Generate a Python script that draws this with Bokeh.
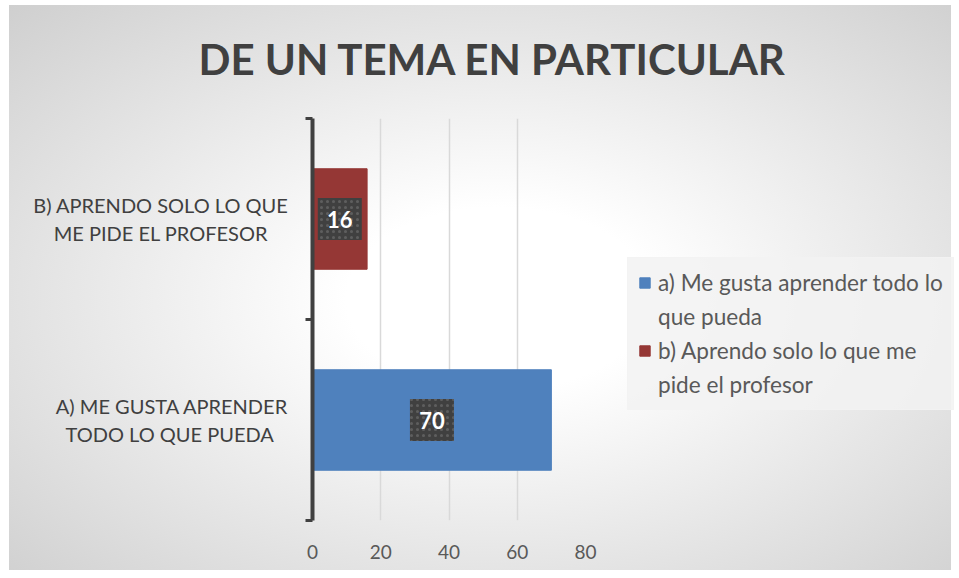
from bokeh.plotting import figure
from bokeh.models import (ColumnDataSource, FixedTicker, Legend, LegendItem, Title, Range1d)
from bokeh.embed import file_html
from bokeh.resources import INLINE
from bokeh.core.properties import value

NB = "\u00a0"

# ---- data ----
title_text = "DE UN TEMA EN PARTICULAR"
categories = ["A) ME GUSTA APRENDER\nTODO LO QUE PUEDA" + NB * 3,
              "B) APRENDO SOLO LO QUE\nME PIDE EL PROFESOR" + NB * 4]
series_names = [["a) Me gusta aprender todo lo", "que pueda"],
                ["b) Aprendo solo lo que me", "pide el profesor"]]
values = [70, 16]
colors = ["#4F81BD", "#953735"]
x_ticks = [0, 20, 40, 60, 80]

FONT = "Lato"

ypos = [i + 0.5 for i in range(len(categories))]
src = ColumnDataSource(dict(y=ypos, right=values, mid=[v / 2 for v in values],
                            color=colors, lab=[str(v) for v in values]))

p = figure(frame_width=273, frame_height=402, output_backend="svg", toolbar_location=None,
           x_range=Range1d(0, 80), y_range=Range1d(0, len(categories)),
           min_border_left=312, min_border_right=30, min_border_top=118,
           min_border_bottom=50)
p.background_fill_color = None
p.border_fill_color = None
p.outline_line_color = None
p.styles = {"background": "radial-gradient(ellipse farthest-corner at 52% 52%, #ffffff 0%, #ffffff 22%, #cfcfcf 100%) 9px 5px / 942px 565px no-repeat, #ffffff"}

bars = p.hbar(y="y", right="right", left=0, height=0.5, color="color", source=src)

# data labels
p.rect(x="mid", y="y", width=44, height=42, width_units="screen", height_units="screen",
       fill_color="#404040", line_color=None, hatch_pattern="dot", hatch_color="#5e5e5e",
       hatch_scale=6, hatch_weight=0.7, source=src)
p.text(x="mid", y="y", text="lab", text_color="white", text_font=value(FONT),
       text_font_style="bold", text_font_size="22px", text_align="center",
       text_baseline="middle", source=src)

# x axis
xa = p.xaxis[0]
xa.ticker = FixedTicker(ticks=x_ticks)
xa.axis_line_color = None
xa.major_tick_line_color = None
xa.minor_tick_line_color = None
xa.major_label_text_font = FONT
xa.major_label_text_font_size = "19px"
xa.major_label_text_color = "#595959"
xa.major_label_standoff = 18

# y axis
ya = p.yaxis[0]
ya.ticker = FixedTicker(ticks=ypos, minor_ticks=list(range(len(categories) + 1)))
ya.major_label_overrides = {ypos[i]: categories[i] for i in range(len(categories))}
ya.axis_line_color = "#404040"
ya.axis_line_width = 4
ya.major_tick_line_color = None
ya.minor_tick_line_color = "#404040"
ya.minor_tick_line_width = 3
ya.minor_tick_out = 7
ya.minor_tick_in = 0
ya.major_label_text_font = FONT
ya.major_label_text_font_size = "20px"
ya.major_label_text_color = "#404040"
ya.major_label_text_line_height = 1.2
ya.major_label_standoff = 17

p.xgrid.ticker = FixedTicker(ticks=x_ticks)
p.xgrid.grid_line_color = "#d9d9d9"
p.xgrid.grid_line_width = 1.5
p.ygrid.grid_line_color = None

# title
p.add_layout(Title(text=title_text, align="left", offset=-114, standoff=66,
                   vertical_align="top",
                   text_font=FONT, text_font_style="bold", text_font_size="42px",
                   text_color="#404040"), "above")

# legend: one row per text line, swatch on the first line of each series
items = []
for i, lines in enumerate(series_names):
    items.append(LegendItem(label=lines[0], renderers=[bars], index=i))
    for extra in lines[1:]:
        items.append(LegendItem(label=extra, renderers=[]))
legend = Legend(items=items, location=(42, 110))
legend.background_fill_color = "#f2f2f2"
legend.background_fill_alpha = 0.85
legend.border_line_color = "#f2f2f2"
legend.border_line_alpha = 0.85
legend.border_line_width = 1
legend.label_text_font = FONT
legend.label_text_font_size = "22.6px"
legend.label_text_color = "#595959"
legend.label_height = 29
legend.glyph_width = 13
legend.glyph_height = 13
legend.label_standoff = 7
legend.spacing = 5
legend.padding = 10
legend.margin = 0
p.add_layout(legend, "right")

open("out.html", "w").write(file_html(p, INLINE))
